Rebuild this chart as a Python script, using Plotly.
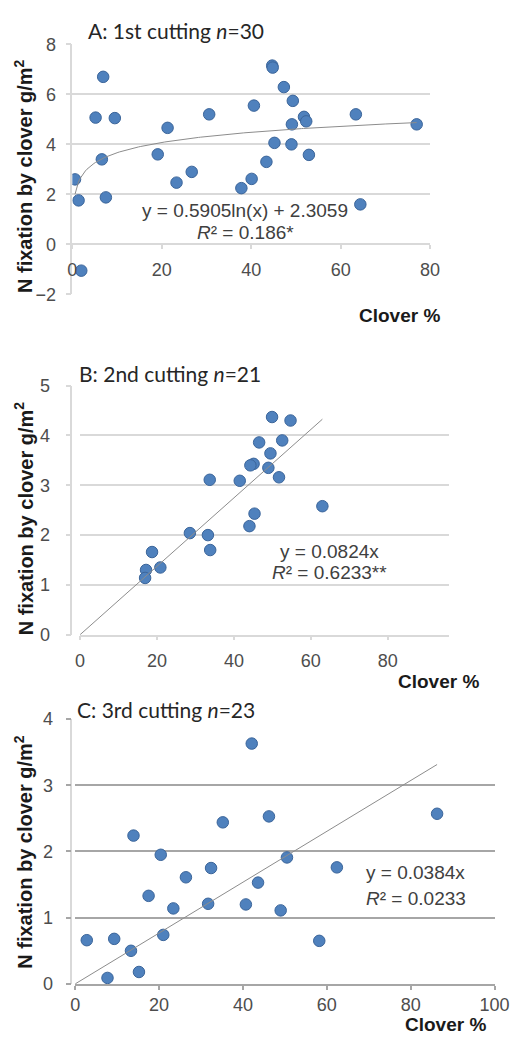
import numpy as np
import plotly.graph_objects as go

# ---------------- data ----------------
# Panel A: 1st cutting (n=30)
a_clover = [0.6, 1.4, 2.0, 5.2, 6.6, 6.9, 7.5, 9.5, 19.1, 21.3, 23.3, 26.7, 30.6, 37.8, 40.1,
            40.6, 43.4, 44.7, 44.8, 45.2, 47.3, 49.0, 49.1, 49.3, 51.8, 52.3, 52.9, 63.4, 64.4, 77.0]
a_nfix = [2.60, 1.76, -1.05, 5.07, 3.40, 6.70, 1.88, 5.05, 3.60, 4.66, 2.47, 2.90, 5.20, 2.25, 2.62,
          5.55, 3.30, 7.15, 7.07, 4.06, 6.29, 4.00, 4.80, 5.74, 5.10, 4.92, 3.58, 5.20, 1.60, 4.80]
a_coef = (0.5905, 2.3059)

# Panel B: 2nd cutting (n=21)
b_clover = [41.6, 45.6, 38.8, 43.8, 41.25, 37.6, 36.9, 40.8, 43.1, 28.1, 34.6, 52.5, 37.8, 36.7,
            23.8, 27.7, 28.2, 15.6, 17.4, 14.3, 14.1]
b_nfix = [4.37, 4.30, 3.86, 3.90, 3.64, 3.43, 3.40, 3.35, 3.16, 3.11, 3.09, 2.58, 2.43, 2.18,
          2.04, 2.00, 1.70, 1.66, 1.35, 1.30, 1.14]
b_slope = 0.0824

# Panel C: 3rd cutting (n=23)
c_clover = [2.76, 9.3, 13.3, 7.7, 15.2, 17.5, 20.4, 21.0, 23.4, 26.4, 31.7, 32.4, 40.7, 43.6,
            49.0, 50.5, 58.2, 62.4, 13.9, 35.2, 42.1, 46.2, 86.3]
c_nfix = [0.66, 0.68, 0.50, 0.09, 0.18, 1.33, 1.95, 0.74, 1.14, 1.61, 1.21, 1.75, 1.20, 1.53,
          1.11, 1.91, 0.65, 1.76, 2.24, 2.44, 3.63, 2.53, 2.57]
c_slope = 0.0384

titles = ["A: 1st cutting <i>n</i>=30", "B: 2nd cutting <i>n</i>=21", "C: 3rd cutting <i>n</i>=23"]
eq_texts = [("y = 0.5905ln(x) + 2.3059", "<i>R</i>² = 0.186*"),
            ("y = 0.0824x", "<i>R</i>² = 0.6233**"),
            ("y = 0.0384x", "<i>R</i>² = 0.0233")]
y_title = "N fixation by clover g/m<sup>2</sup>"
x_title = "Clover %"

# ---------------- layout helpers ----------------
W, H = 523, 1039
def fx(p):
    return p / W
def fy(p):
    return 1 - p / H

MARK = dict(color="#4f81bd", size=11.5, line=dict(color="#3b659a", width=1))
TREND = dict(color="#8c8c8c", width=1)
TICKFONT = dict(family="Liberation Sans, Arial", size=18, color="#4d4d4d")
LIGHT = "#d9d9d9"
DARK = "#a6a6a6"

fig = go.Figure()

# Panel A
fig.add_trace(go.Scatter(x=a_clover, y=a_nfix, mode="markers", marker=MARK,
                         xaxis="x", yaxis="y", showlegend=False))
xa = np.linspace(min(a_clover), max(a_clover), 200)
fig.add_trace(go.Scatter(x=xa, y=a_coef[0] * np.log(xa) + a_coef[1], mode="lines", line=TREND,
                         xaxis="x", yaxis="y", showlegend=False, hoverinfo="skip"))

# Panel B
fig.add_trace(go.Scatter(x=b_clover, y=b_nfix, mode="markers", marker=MARK,
                         xaxis="x2", yaxis="y2", showlegend=False))
xb = np.array([0, max(b_clover)])
fig.add_trace(go.Scatter(x=xb, y=b_slope * xb, mode="lines", line=TREND,
                         xaxis="x2", yaxis="y2", showlegend=False, hoverinfo="skip"))
fig.add_trace(go.Scatter(x=[], y=[], xaxis="x4", yaxis="y2", showlegend=False))

# Panel C
fig.add_trace(go.Scatter(x=c_clover, y=c_nfix, mode="markers", marker=MARK,
                         xaxis="x3", yaxis="y3", showlegend=False))
xc = np.array([0, max(c_clover)])
fig.add_trace(go.Scatter(x=xc, y=c_slope * xc, mode="lines", line=TREND,
                         xaxis="x3", yaxis="y3", showlegend=False, hoverinfo="skip"))

def yax(top, bottom, rng, dtick, grid, gw, standoff):
    return dict(domain=[fy(bottom), fy(top)], range=rng, dtick=dtick, showgrid=True,
                gridcolor=grid, gridwidth=gw, zeroline=False, showline=True, linecolor=LIGHT,
                linewidth=1.5, ticks="outside", ticklen=5, tickcolor=grid, tickwidth=gw,
                tickfont=TICKFONT, ticklabelstandoff=standoff, fixedrange=True)

def xax(left, right, rng, dtick, grid, gw, standoff, **kw):
    d = dict(domain=[fx(left), fx(right)], range=rng, dtick=dtick, showgrid=False,
             zeroline=False, showline=True, linecolor=grid, linewidth=gw, ticks="outside",
             ticklen=4, tickcolor=grid, tickwidth=gw, tickfont=TICKFONT,
             ticklabelstandoff=standoff, fixedrange=True)
    d.update(kw)
    return d

# panel A: horizontal axis crosses at y=0
a_top, a_bot = 35, 290
a_zero_px = a_top + (8 - 0) / 10 * (a_bot - a_top)
fig.update_layout(
    width=W, height=H, margin=dict(l=0, r=0, t=0, b=0),
    paper_bgcolor="white", plot_bgcolor="white",
    xaxis=xax(70, 442, [0, 80], 20, LIGHT, 1.5, 5, anchor="free", position=fy(a_zero_px)),
    yaxis=yax(a_top, a_bot, [-2, 8], 2, LIGHT, 1.5, 6),
    xaxis2=xax(78, 462, [0, 80], 20, LIGHT, 1.5, 6, anchor="y2", showticklabels=False, ticks=""),
    xaxis4=xax(78, 462, [0, 96], 20, LIGHT, 1.5, 5, anchor="y2", overlaying="x2",
               tickvals=[0, 20, 40, 60, 80]),
    yaxis2=yax(383, 637, [0, 5], 1, LIGHT, 1.5, 12),
    xaxis3=xax(73, 509, [0, 100], 20, DARK, 1.5, 0, anchor="y3"),
    yaxis3=yax(723, 993, [0, 4], 1, DARK, 2, 9),
)

annos = []
title_font = dict(family="Lato, Open Sans", size=21, color="#262626")
for t, (cx, cy) in zip(titles, [(178, 21), (172, 371), (167, 713)]):
    annos.append(dict(text=t, x=fx(cx), y=fy(cy), xref="paper", yref="paper",
                      showarrow=False, font=title_font, xanchor="center", yanchor="middle"))

ytf = dict(family="Liberation Sans, Arial", size=20, color="#1a1a1a", weight="bold")
for cy in [169, 518, 858]:
    annos.append(dict(text="<b>" + y_title + "</b>", x=fx(19), y=fy(cy), xref="paper", yref="paper",
                      showarrow=False, textangle=-90, font=ytf, xanchor="center", yanchor="middle"))

xtf = dict(family="Liberation Sans, Arial", size=19, color="#1a1a1a", weight="bold")
for cx, cy in [(410, 312), (451, 685), (458, 1034)]:
    annos.append(dict(text="<b>" + x_title + "</b>", x=fx(cx), y=fy(cy), xref="paper", yref="paper",
                      showarrow=False, font=xtf, xanchor="center", yanchor="middle"))

eqf = dict(family="Liberation Sans, Arial", size=19, color="#404040")
for (e1, e2), (cx, cy1, cy2) in zip(eq_texts, [(250, 204, 227), (337, 552, 574), (427, 879, 906)]):
    annos.append(dict(text=e1, x=fx(cx), y=fy(cy1), xref="paper", yref="paper",
                      showarrow=False, font=eqf, xanchor="center", yanchor="middle"))
    annos.append(dict(text=e2, x=fx(cx), y=fy(cy2), xref="paper", yref="paper",
                      showarrow=False, font=eqf, xanchor="center", yanchor="middle"))

fig.update_layout(annotations=annos)
fig.write_html("out.html", config={"displayModeBar": False},
               post_script="document.body.style.margin='0';document.body.style.overflow='hidden';")
